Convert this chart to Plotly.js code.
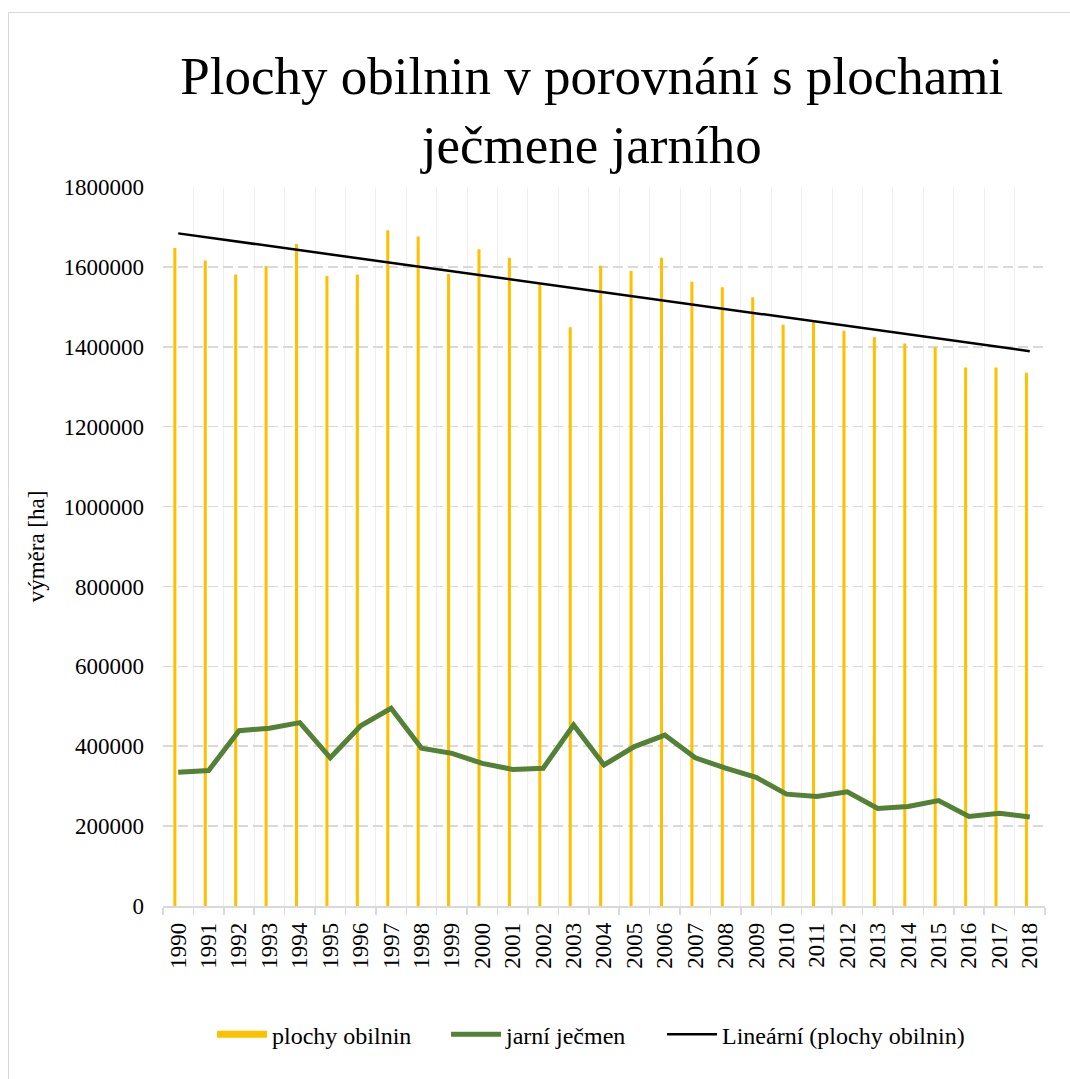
<!DOCTYPE html>
<html>
<head>
<meta charset="utf-8">
<script src="https://cdn.plot.ly/plotly-3.0.1.min.js"></script>
<style>
  html, body { margin: 0; padding: 0; background: #ffffff; }
  #chart { width: 1070px; height: 1079px; }
  #frame { position: absolute; left: 8px; top: 12px; width: 1100px; height: 1100px;
           border: 1px solid #d9d9d9; pointer-events: none; }
</style>
</head>
<body>
<div id="chart"></div>
<div id="frame"></div>
<script>
// ---- data ----
var years = [1990, 1991, 1992, 1993, 1994, 1995, 1996, 1997, 1998, 1999,
             2000, 2001, 2002, 2003, 2004, 2005, 2006, 2007, 2008, 2009,
             2010, 2011, 2012, 2013, 2014, 2015, 2016, 2017, 2018];
var yearLabels = ["1990", "1991", "1992", "1993", "1994", "1995", "1996", "1997", "1998", "1999",
                  "2000", "2001", "2002", "2003", "2004", "2005", "2006", "2007", "2008", "2009",
                  "2010", "2011", "2012", "2013", "2014", "2015", "2016", "2017", "2018"];
var cerealArea = [1647000, 1616000, 1581000, 1602000, 1657000, 1577000, 1581000, 1692000, 1676000, 1582000,
                  1644000, 1623000, 1558000, 1449000, 1603000, 1590000, 1623000, 1563000, 1549000, 1524000,
                  1455000, 1464000, 1440000, 1424000, 1408000, 1399000, 1348000, 1348000, 1335000];
var springBarley = [335000, 339000, 439000, 445000, 459000, 371000, 451000, 495000, 395000, 382000,
                    357000, 342000, 345000, 453000, 353000, 399000, 428000, 371000, 345000, 322000,
                    280000, 274000, 286000, 244000, 249000, 264000, 224000, 232000, 223000];
var yTicks = [0, 200000, 400000, 600000, 800000, 1000000, 1200000, 1400000, 1600000, 1800000];

var titleText = "Plochy obilnin v porovnání s plochami<br>ječmene jarního";
var nameCereal = "plochy obilnin";
var nameBarley = "jarní ječmen";
var nameTrend = "Lineární (plochy obilnin)";

// ---- linear trend (least squares, as the spreadsheet trendline) ----
function linearFit(xs, ys) {
  var n = xs.length, sx = 0, sy = 0, sxx = 0, sxy = 0;
  for (var i = 0; i < n; i++) { sx += xs[i]; sy += ys[i]; sxx += xs[i] * xs[i]; sxy += xs[i] * ys[i]; }
  var b = (n * sxy - sx * sy) / (n * sxx - sx * sx);
  var a = (sy - b * sx) / n;
  return xs.map(function (x) { return a + b * x; });
}
var trend = linearFit(years, cerealArea);

var FONT = "Liberation Serif";

var traces = [
  {
    type: "bar", x: years, y: cerealArea, name: nameCereal, showlegend: false,
    marker: { color: "#FFC000", line: { width: 0 } },
    width: 0.1, offset: -0.16, hoverinfo: "x+y"
  },
  {
    type: "scatter", mode: "lines", x: [null], y: [null], name: nameCereal,
    line: { color: "#FFC000", width: 7 }, hoverinfo: "skip", legend: "legend"
  },
  {
    type: "scatter", mode: "lines", x: years, y: springBarley, name: nameBarley,
    line: { color: "#538135", width: 5, shape: "linear" }, legend: "legend2"
  },
  {
    type: "scatter", mode: "lines", x: years, y: trend, name: nameTrend,
    line: { color: "#000000", width: 2.5 }, legend: "legend3"
  }
];

function legendAt(xPos) {
  return {
    orientation: "h", x: xPos, xanchor: "left", y: -0.179, yanchor: "middle",
    font: { family: FONT, size: 24, color: "#000000" },
    itemwidth: 50, bgcolor: "rgba(0,0,0,0)"
  };
}

var layout = {
  width: 1070, height: 1079,
  paper_bgcolor: "rgba(0,0,0,0)", plot_bgcolor: "#ffffff",
  margin: { l: 163, r: 25, t: 187, b: 173, autoexpand: false },
  font: { family: FONT, color: "#000000", size: 23 },
  title: {
    text: titleText, font: { family: FONT, size: 53, color: "#000000" },
    xref: "container", x: 0.553, xanchor: "center",
    yref: "container", y: 0.913, yanchor: "top"
  },
  barmode: "overlay",
  showlegend: true,
  legend: legendAt(0.0556),
  legend2: legendAt(0.3209),
  legend3: legendAt(0.5658),
  xaxis: {
    type: "linear", range: [1989.5, 2018.5],
    tickmode: "array", tickvals: years, ticktext: yearLabels,
    tickangle: -90, ticks: "", showgrid: false, zeroline: false,
    showline: true, linecolor: "#d9d9d9", linewidth: 1.5,
    tickfont: { family: FONT, size: 23, color: "#000000" },
    ticklabelstandoff: 6,
    minor: {
      tickmode: "linear", tick0: 1989.5, dtick: 1,
      showgrid: true, gridcolor: "#efefef", gridwidth: 1,
      ticks: "outside", ticklen: 7, tickcolor: "#d9d9d9", tickwidth: 1.5
    },
    fixedrange: true
  },
  yaxis: {
    range: [0, 1800000], tickmode: "array", tickvals: yTicks,
    ticktext: yTicks.map(function (v) { return String(v); }),
    showgrid: true, gridcolor: "#d9d9d9", gridwidth: 1.5, griddash: "10px,5px",
    zeroline: false, showline: false, ticks: "",
    tickfont: { family: FONT, size: 23, color: "#000000" },
    ticklabelstandoff: 18,
    title: { text: "výměra [ha]", font: { family: FONT, size: 23, color: "#000000" }, standoff: 12 },
    fixedrange: true
  }
};

Plotly.newPlot("chart", traces, layout, { displayModeBar: false, staticPlot: true });
</script>
</body>
</html>
